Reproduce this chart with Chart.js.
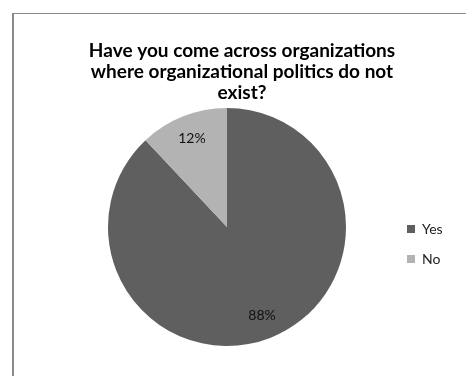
<!DOCTYPE html>
<html>
<head>
<meta charset="utf-8">
<script src="https://cdn.jsdelivr.net/npm/chart.js@4.4.1/dist/chart.umd.min.js"></script>
<style>
  html, body { margin: 0; padding: 0; background: #ffffff; }
  #wrap { position: relative; width: 466px; height: 376px; overflow: hidden; }
  #frame { position: absolute; left: 12px; top: 13px; width: 470px; height: 380px;
           border-left: 2px solid #8a8a8a; border-top: 1px solid #8a8a8a; box-sizing: border-box; }
  canvas { position: absolute; left: 0; top: 0; }
</style>
</head>
<body>
<div id="wrap">
  <div id="frame"></div>
  <canvas id="c" width="466" height="376"></canvas>
</div>
<script>
const titleLines = ["Have you come across organizations", "where organizational politics do not", "exist?"];
const categories = ["Yes", "No"];
const values = [88, 12];
const sliceColors = ["#5f5f5f", "#b3b3b3"];

const pctLabels = {
  id: 'pctLabels',
  afterDatasetsDraw(chart) {
    const ctx = chart.ctx;
    const meta = chart.getDatasetMeta(0);
    const data = chart.data.datasets[0].data;
    const total = data.reduce((a, b) => a + b, 0);
    ctx.save();
    ctx.font = '14px Lato';
    ctx.fillStyle = '#111111';
    ctx.textAlign = 'center';
    ctx.textBaseline = 'middle';
    meta.data.forEach((arc, i) => {
      const p = arc.getProps(['x', 'y', 'startAngle', 'endAngle', 'outerRadius'], true);
      const mid = (p.startAngle + p.endAngle) / 2;
      const r = p.outerRadius * 0.8;
      const x = p.x + Math.cos(mid) * r;
      const y = p.y + Math.sin(mid) * r;
      ctx.fillText(Math.round(data[i] / total * 100) + '%', x, y);
    });
    ctx.restore();
  }
};

// let the narrow legend box draw its labels past its own right edge
const widenLegendClip = {
  id: 'widenLegendClip',
  afterLayout(chart) {
    if (chart.legend) {
      chart.legend.right = chart.width;
    }
  }
};

Chart.defaults.font.family = 'Lato';

new Chart(document.getElementById('c'), {
  type: 'pie',
  data: {
    labels: categories,
    datasets: [{
      data: values,
      backgroundColor: sliceColors,
      borderWidth: 0
    }]
  },
  options: {
    responsive: false,
    devicePixelRatio: 1,
    animation: false,
    layout: { padding: { left: 63, right: 45, top: 40, bottom: 30 } },
    plugins: {
      title: {
        display: true,
        text: titleLines,
        color: '#000000',
        font: { size: 19, weight: 'bold', lineHeight: '21px' },
        padding: { top: 0, bottom: 5 }
      },
      legend: {
        position: 'right',
        fullSize: false,
        maxWidth: 30,
        title: { display: true, text: ' ', font: { size: 34, lineHeight: 1 }, padding: 0 },
        labels: {
          boxWidth: 8,
          boxHeight: 8,
          padding: 16,
          color: '#222222',
          font: { size: 14 }
        }
      },
      tooltip: { enabled: false }
    }
  },
  plugins: [pctLabels, widenLegendClip]
});
</script>
</body>
</html>
